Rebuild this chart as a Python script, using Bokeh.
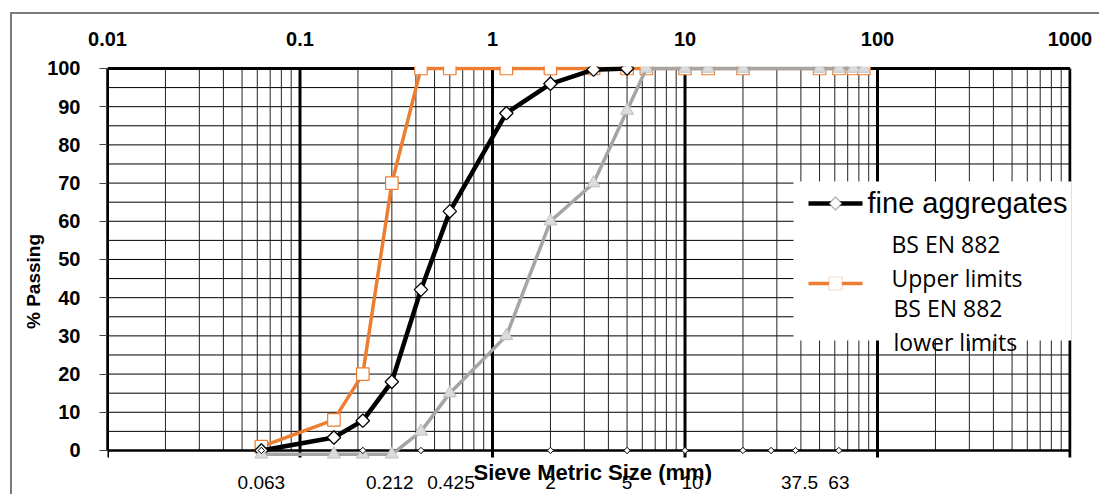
import numpy as np
from bokeh.plotting import figure
from bokeh.models import (Range1d, FixedTicker, ColumnDataSource, LabelSet, Label,
                          BoxAnnotation, PolyAnnotation)
from bokeh.core.properties import value
from bokeh.embed import file_html
from bokeh.resources import INLINE

# ---------------- data ----------------
sieve_sizes_mm = [0.063, 0.15, 0.212, 0.3, 0.425, 0.6, 1.18, 2, 3.35, 5,
                  6.3, 10, 13.2, 20, 50, 63, 75, 85]
fine_sizes_mm = [0.063, 0.15, 0.212, 0.3, 0.425, 0.6, 1.18, 2, 3.35, 5]
fine_passing = [0, 3.4, 7.8, 18, 42.1, 62.6, 88.3, 96, 99.7, 100]
upper_limits = [1, 8, 20, 70, 100, 100, 100, 100, 100, 100,
                100, 100, 100, 100, 100, 100, 100, 100]
lower_limits = [-1, -1, -1, -1, 5, 15, 30, 60, 70, 89,
                100, 100, 100, 100, 100, 100, 100, 100]
axis_sieves_mm = [0.063, 0.212, 0.425, 2, 5, 10, 20, 28, 37.5, 63]
axis_sieve_labels = ["0.063", "0.212", "0.425", "2", "5", "10", "", "", "37.5", "63"]
decades = [0.01, 0.1, 1, 10, 100, 1000]
decade_labels = ["0.01", "0.1", "1", "10", "100", "1000"]
y_ticks = list(range(0, 101, 10))
y_grid_minor = list(range(5, 100, 5))

# label nudges in px (styling only)
label_nudge = {"0.212": 27, "0.425": 30, "10": 7, "37.5": 4}

BOLD_FONT = "Liberation Sans"
ORANGE = "#ED7D31"
GRAY = "#A5A5A5"

p = figure(width=1089, height=482, x_axis_type="log", x_axis_location="above",
           x_range=Range1d(0.01, 1018), y_range=Range1d(-12.05, 100.52),
           output_backend="svg", toolbar_location=None,
           min_border_left=95, min_border_right=30, min_border_top=52,
           min_border_bottom=0)
p.styles = {"margin-left": "10px", "margin-top": "12px",
            "border-left": "2px solid #7a7a7a", "border-top": "2px solid #7a7a7a"}
p.outline_line_color = None
p.xgrid.visible = False
p.ygrid.visible = False
p.background_fill_color = "white"
p.border_fill_color = "white"

# top axis
xa = p.xaxis[0]
xa.ticker = FixedTicker(ticks=decades)
xa.major_label_overrides = {d: s for d, s in zip(decades, decade_labels)}
xa.axis_line_color = None
xa.major_tick_line_color = None
xa.minor_tick_line_color = None
xa.major_label_text_font = BOLD_FONT
xa.major_label_text_font_style = "bold"
xa.major_label_text_font_size = "20px"
xa.major_label_text_color = "black"
xa.major_label_standoff = 15

# left axis
ya = p.yaxis[0]
ya.ticker = FixedTicker(ticks=y_ticks)
ya.bounds = (0, 100)
ya.major_tick_out = 8
ya.major_tick_in = 0
ya.major_tick_line_color = "#444444"
ya.minor_tick_line_color = None
ya.axis_line_color = "black"
ya.axis_line_width = 2.5
ya.major_label_text_font = BOLD_FONT
ya.major_label_text_font_style = "bold"
ya.major_label_text_font_size = "20px"
ya.major_label_text_color = "black"
ya.major_label_standoff = 19
ya.axis_label = "% Passing"
ya.axis_label_text_font = BOLD_FONT
ya.axis_label_text_font_style = "bold"
ya.axis_label_text_font_size = "19px"
ya.axis_label_text_color = "black"
ya.axis_label_standoff = 0

# grid lines (drawn as segments so they stop at 0 / 100)
minor_x = [m * d for d in decades[:-1] for m in range(2, 10)]
p.segment(x0=0.01, x1=1000, y0=y_grid_minor, y1=y_grid_minor,
          line_color="black", line_width=1)
p.segment(x0=minor_x, x1=minor_x, y0=0, y1=100, line_color="#222222", line_width=1)
p.segment(x0=decades, x1=decades, y0=-1.85, y1=100, line_color="black", line_width=3)
p.segment(x0=0.01, x1=1000, y0=100, y1=100, line_color="black", line_width=3)
p.segment(x0=0.01, x1=1000, y0=0, y1=0, line_color="black", line_width=2.5)

# series
p.line(sieve_sizes_mm, upper_limits, line_color=ORANGE, line_width=3.5, line_join="round")
p.scatter(sieve_sizes_mm, upper_limits, marker="square", size=12.5,
          fill_color="white", line_color=ORANGE, line_width=1.2)

p.line(fine_sizes_mm, fine_passing, line_color="black", line_width=4.5, line_join="round")
p.scatter(fine_sizes_mm, fine_passing, marker="square", angle=np.pi / 4, size=9.5,
          fill_color="white", line_color="black", line_width=1.3)

p.line(sieve_sizes_mm, lower_limits, line_color=GRAY, line_width=3.5, line_join="round")
p.scatter(sieve_sizes_mm, lower_limits, marker="triangle", size=13,
          fill_color="#DCDCDC", line_color="#BFBFBF", line_width=1)

p.scatter(axis_sieves_mm, [0] * len(axis_sieves_mm), marker="square", angle=np.pi / 4,
          size=4.5, fill_color="white", line_color="black", line_width=1)

# sieve size labels under the axis
lab_src = ColumnDataSource(dict(
    x=axis_sieves_mm, y=[0] * len(axis_sieves_mm), text=axis_sieve_labels,
    dx=[label_nudge.get(t, 0) for t in axis_sieve_labels]))
p.add_layout(LabelSet(source=lab_src, x="x", y="y", text="text", x_offset="dx",
                      y_offset=-32, text_align="center", text_baseline="middle",
                      text_font=value(BOLD_FONT), text_font_size=value("19px"),
                      text_color="black"))

p.add_layout(Label(x=10 ** 0.5, y=0, x_offset=4, y_offset=-22,
                   text="Sieve Metric Size (mm)", text_align="center",
                   text_baseline="middle", text_font=BOLD_FONT,
                   text_font_style="bold", text_font_size="22px", text_color="black"))

# legend (manual; screen units = px from frame left / frame bottom)
FB = 496  # picture y of the frame bottom


def sy(page_y):
    return FB - page_y


def sx(page_x):
    return page_x - 107


def box(l, r, b, t, **kw):
    p.add_layout(BoxAnnotation(left=l, right=r, bottom=b, top=t,
                               left_units="screen", right_units="screen",
                               bottom_units="screen", top_units="screen", **kw))


box(sx(793), sx(1110), sy(340), sy(181), fill_color="white", fill_alpha=1, line_color=None)
box(sx(808), sx(862), sy(203) - 2.25, sy(203) + 2.25,
    fill_color="black", fill_alpha=1, line_color=None)
cx, cy = sx(835), sy(203)
p.add_layout(PolyAnnotation(xs=[cx - 6.5, cx, cx + 6.5, cx], ys=[cy, cy + 6.5, cy, cy - 6.5],
                            xs_units="screen", ys_units="screen",
                            fill_color="white", fill_alpha=1, line_color="black",
                            line_width=1.3))
box(sx(808), sx(862), sy(283) - 1.75, sy(283) + 1.75,
    fill_color=ORANGE, fill_alpha=1, line_color=None)
box(sx(835) - 6.5, sx(835) + 6.5, sy(283) - 6.5, sy(283) + 6.5,
    fill_color="white", fill_alpha=1, line_color=ORANGE, line_width=1.2)

legend_texts = [("fine aggregates", 867, 202, "Liberation Sans", "29px"),
                ("BS EN 882", 891, 243, "Open Sans", "23px"),
                ("Upper limits", 891, 277, "Open Sans", "23px"),
                ("BS EN 882", 893, 307, "Open Sans", "23px"),
                ("lower limits", 893, 341, "Open Sans", "23px")]
for t, px, py, fnt, fs in legend_texts:
    p.add_layout(Label(x=sx(px), y=sy(py), x_units="screen", y_units="screen", text=t,
                       text_align="left", text_baseline="middle", text_font=fnt,
                       text_font_size=fs, text_color="black"))

open("out.html", "w").write(file_html(p, INLINE))
